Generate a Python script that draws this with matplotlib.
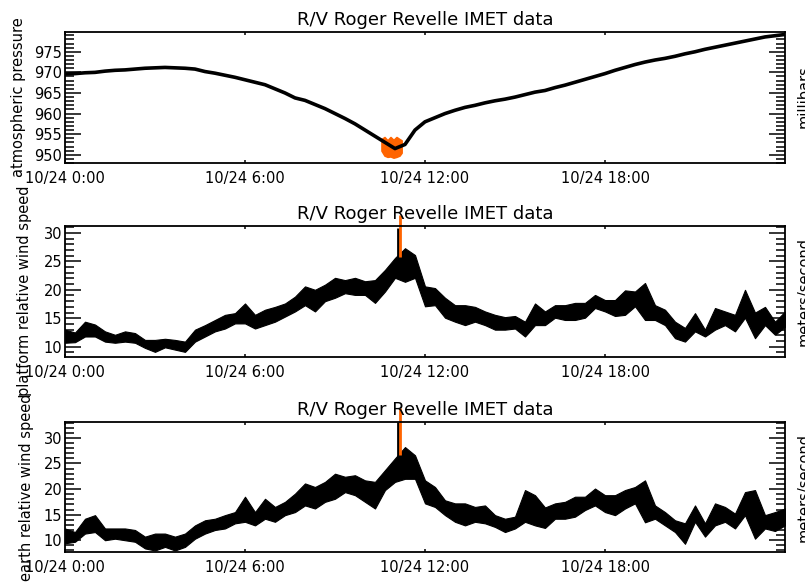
import numpy as np
import matplotlib.pyplot as plt
from matplotlib.ticker import MultipleLocator

# 20 minute samples from 10/24 0:00 to 10/25 0:00 (hours)
hours = np.arange(73) / 3.0

pressure = [
    969.6, 969.7, 969.9, 970.0, 970.3, 970.5, 970.6, 970.8, 971.0, 971.1,
    971.2, 971.1, 971.0, 970.8, 970.2, 969.8, 969.3, 968.8, 968.2, 967.6,
    967.0, 966.0, 965.0, 963.8, 963.2, 962.2, 961.2, 960.0, 958.8, 957.5,
    956.0, 954.5, 953.0, 951.5, 952.5, 956.0, 958.0, 959.0, 960.0, 960.8,
    961.5, 962.0, 962.6, 963.1, 963.5, 964.0, 964.6, 965.2, 965.6, 966.3,
    966.9, 967.6, 968.3, 969.0, 969.7, 970.5, 971.2, 971.9, 972.5, 973.0,
    973.4, 973.9, 974.5, 975.0, 975.6, 976.1, 976.6, 977.1, 977.6, 978.1,
    978.6, 978.9, 979.2,
]

# platform relative wind speed, low / high of each 20 minute band
plat_lo = [
    10.7, 10.8, 11.8, 11.8, 10.9, 10.7, 10.9, 10.7, 9.8, 9.1,
    9.9, 9.5, 9.1, 10.9, 11.8, 12.7, 13.2, 14.1, 14.1, 13.2,
    13.8, 14.4, 15.3, 16.2, 17.3, 16.2, 18.0, 18.6, 19.4, 19.1,
    19.1, 17.7, 19.7, 22.1, 21.4, 22.1, 17.1, 17.3, 15.1, 14.4,
    13.8, 14.4, 13.8, 13.0, 13.0, 13.2, 11.8, 13.8, 13.8, 15.1,
    14.7, 14.7, 15.1, 16.8, 16.2, 15.4, 15.6, 17.1, 14.7, 14.7,
    13.8, 11.5, 10.9, 12.7, 11.8, 13.0, 13.8, 12.7, 15.1, 11.5,
    13.8, 12.1, 13.5,
]
plat_hi = [
    13.0, 12.5, 14.4, 13.9, 12.7, 12.1, 12.7, 12.4, 11.2, 11.2,
    11.4, 11.2, 10.9, 13.0, 13.8, 14.7, 15.6, 15.9, 17.6, 15.6,
    16.5, 17.0, 17.6, 18.8, 20.6, 20.0, 20.9, 22.1, 21.7, 22.1,
    21.5, 21.7, 23.5, 25.6, 27.3, 26.1, 20.6, 20.3, 18.6, 17.3,
    17.3, 17.0, 16.2, 15.6, 15.2, 15.4, 14.4, 17.6, 16.2, 17.3,
    17.3, 17.7, 17.7, 19.1, 18.2, 18.2, 19.9, 19.7, 21.2, 17.3,
    16.5, 14.4, 13.3, 15.9, 13.0, 16.8, 16.2, 15.6, 20.0, 16.0,
    17.0, 14.4, 16.2,
]

# earth relative wind speed, low / high of each 20 minute band
earth_lo = [
    9.4, 9.7, 11.3, 11.6, 10.0, 10.3, 10.0, 9.7, 8.4, 8.0,
    8.7, 8.0, 8.7, 10.3, 11.3, 12.0, 12.3, 13.3, 13.6, 12.9,
    14.2, 13.6, 14.9, 15.5, 16.8, 16.2, 17.5, 18.1, 19.4, 18.8,
    17.5, 16.2, 19.8, 21.4, 22.0, 22.0, 17.2, 16.5, 14.9, 13.6,
    12.9, 13.6, 13.3, 12.6, 11.6, 12.3, 13.6, 12.9, 12.4, 14.2,
    14.2, 14.6, 15.9, 16.8, 15.5, 14.9, 16.2, 17.2, 13.5, 14.2,
    12.9, 11.6, 9.3, 13.6, 10.7, 12.9, 13.6, 12.3, 14.9, 10.3,
    12.3, 11.8, 12.9,
]
earth_hi = [
    12.3, 11.6, 14.2, 14.9, 12.3, 12.3, 12.3, 12.0, 10.7, 11.3,
    11.3, 10.7, 11.3, 12.9, 13.9, 14.2, 14.9, 15.5, 18.5, 15.5,
    18.1, 16.5, 17.5, 19.1, 21.1, 20.4, 21.4, 23.0, 22.4, 22.7,
    21.7, 21.4, 23.7, 26.0, 28.2, 26.6, 21.7, 20.4, 17.8, 17.2,
    17.2, 16.5, 16.8, 14.9, 14.2, 14.6, 19.8, 18.8, 16.4, 17.2,
    17.5, 18.5, 18.5, 20.1, 18.8, 18.8, 19.8, 20.4, 21.7, 16.8,
    15.5, 13.9, 13.3, 16.8, 13.3, 17.2, 16.5, 15.2, 19.4, 19.8,
    14.9, 15.5, 16.2,
]

# flagged pressure readings (orange)
press_flag_t = [10.55, 10.65, 10.75, 10.85, 10.95, 11.05, 11.15, 11.22]
press_flag_lo = [951.0, 949.8, 949.5, 949.6, 949.3, 949.5, 949.8, 950.5]
press_flag_hi = [953.8, 954.3, 953.5, 954.3, 953.6, 954.3, 953.8, 953.5]

# short gust spikes: black reading then flagged (orange) reading
plat_spike_t = [11.1, 11.17]
plat_spike_lo = [25.0, 25.8]
plat_spike_hi = [30.9, 33.1]
earth_spike_t = [11.1, 11.17]
earth_spike_lo = [25.5, 26.6]
earth_spike_hi = [33.1, 35.8]

xtick_hours = [0, 6, 12, 18]
xtick_labels = ["10/24 0:00", "10/24 6:00", "10/24 12:00", "10/24 18:00"]

ORANGE = "#ff6400"
W, H = 805, 582
fig = plt.figure(figsize=(W / 100, H / 100), dpi=100)
plt.rcParams["font.family"] = "DejaVu Sans"


def make_axes(top_px, bottom_px):
    ax = fig.add_axes([65 / W, 1 - bottom_px / H, 720 / W, (bottom_px - top_px) / H])
    ax.set_xlim(0, 24)
    ax.set_xticks(xtick_hours)
    ax.set_xticklabels(xtick_labels)
    ax.yaxis.set_major_locator(MultipleLocator(5))
    ax.yaxis.set_minor_locator(MultipleLocator(1))
    ax.tick_params(which="both", direction="in", top=True, right=True,
                   width=1.1, labelsize=10.5, color="black")
    ax.tick_params(axis="x", which="major", length=2.5, pad=6)
    ax.tick_params(axis="y", which="major", length=11.5, pad=2)
    ax.tick_params(axis="y", which="minor", length=6.5)
    for s in ax.spines.values():
        s.set_linewidth(1.3)
    ax.set_title("R/V Roger Revelle IMET data", fontsize=13, pad=5)
    return ax


# atmospheric pressure
ax1 = make_axes(32, 163)
ax1.plot(hours, pressure, color="black", lw=2.6)
ax1.fill_between(press_flag_t, press_flag_lo, press_flag_hi, color=ORANGE,
                 edgecolor=ORANGE, lw=1.2)
ax1.set_ylim(948, 979.8)
fig.text(19 / W, 1 - 97 / H, "atmospheric pressure", rotation=90,
         ha="center", va="center", fontsize=10.5)
fig.text(797 / W, 1 - 97 / H, "millibars", rotation=90,
         ha="left", va="center", fontsize=10.5)

# platform relative wind speed
ax2 = make_axes(226, 357)
ax2.fill_between(hours, plat_lo, plat_hi, color="black", edgecolor="black", lw=0.8)
ax2.vlines(plat_spike_t[0], plat_spike_lo[0], plat_spike_hi[0], color="black", lw=2)
ax2.vlines(plat_spike_t[1], plat_spike_lo[1], plat_spike_hi[1], color=ORANGE, lw=2,
           clip_on=False)
ax2.set_ylim(8.2, 31.2)
fig.text(25 / W, 1 - 291 / H, "platform relative wind speed", rotation=90,
         ha="center", va="center", fontsize=10.5)
fig.text(797 / W, 1 - 291 / H, "meters/second", rotation=90,
         ha="left", va="center", fontsize=10.5)

# earth relative wind speed
ax3 = make_axes(422, 552)
ax3.fill_between(hours, earth_lo, earth_hi, color="black", edgecolor="black", lw=0.8)
ax3.vlines(earth_spike_t[0], earth_spike_lo[0], earth_spike_hi[0], color="black", lw=2)
ax3.vlines(earth_spike_t[1], earth_spike_lo[1], earth_spike_hi[1], color=ORANGE, lw=2,
           clip_on=False)
ax3.set_ylim(7.7, 33.1)
fig.text(26 / W, 1 - 487 / H, "earth relative wind speed", rotation=90,
         ha="center", va="center", fontsize=10.5)
fig.text(797 / W, 1 - 487 / H, "meters/second", rotation=90,
         ha="left", va="center", fontsize=10.5)

fig.savefig("out.png", dpi=100)
